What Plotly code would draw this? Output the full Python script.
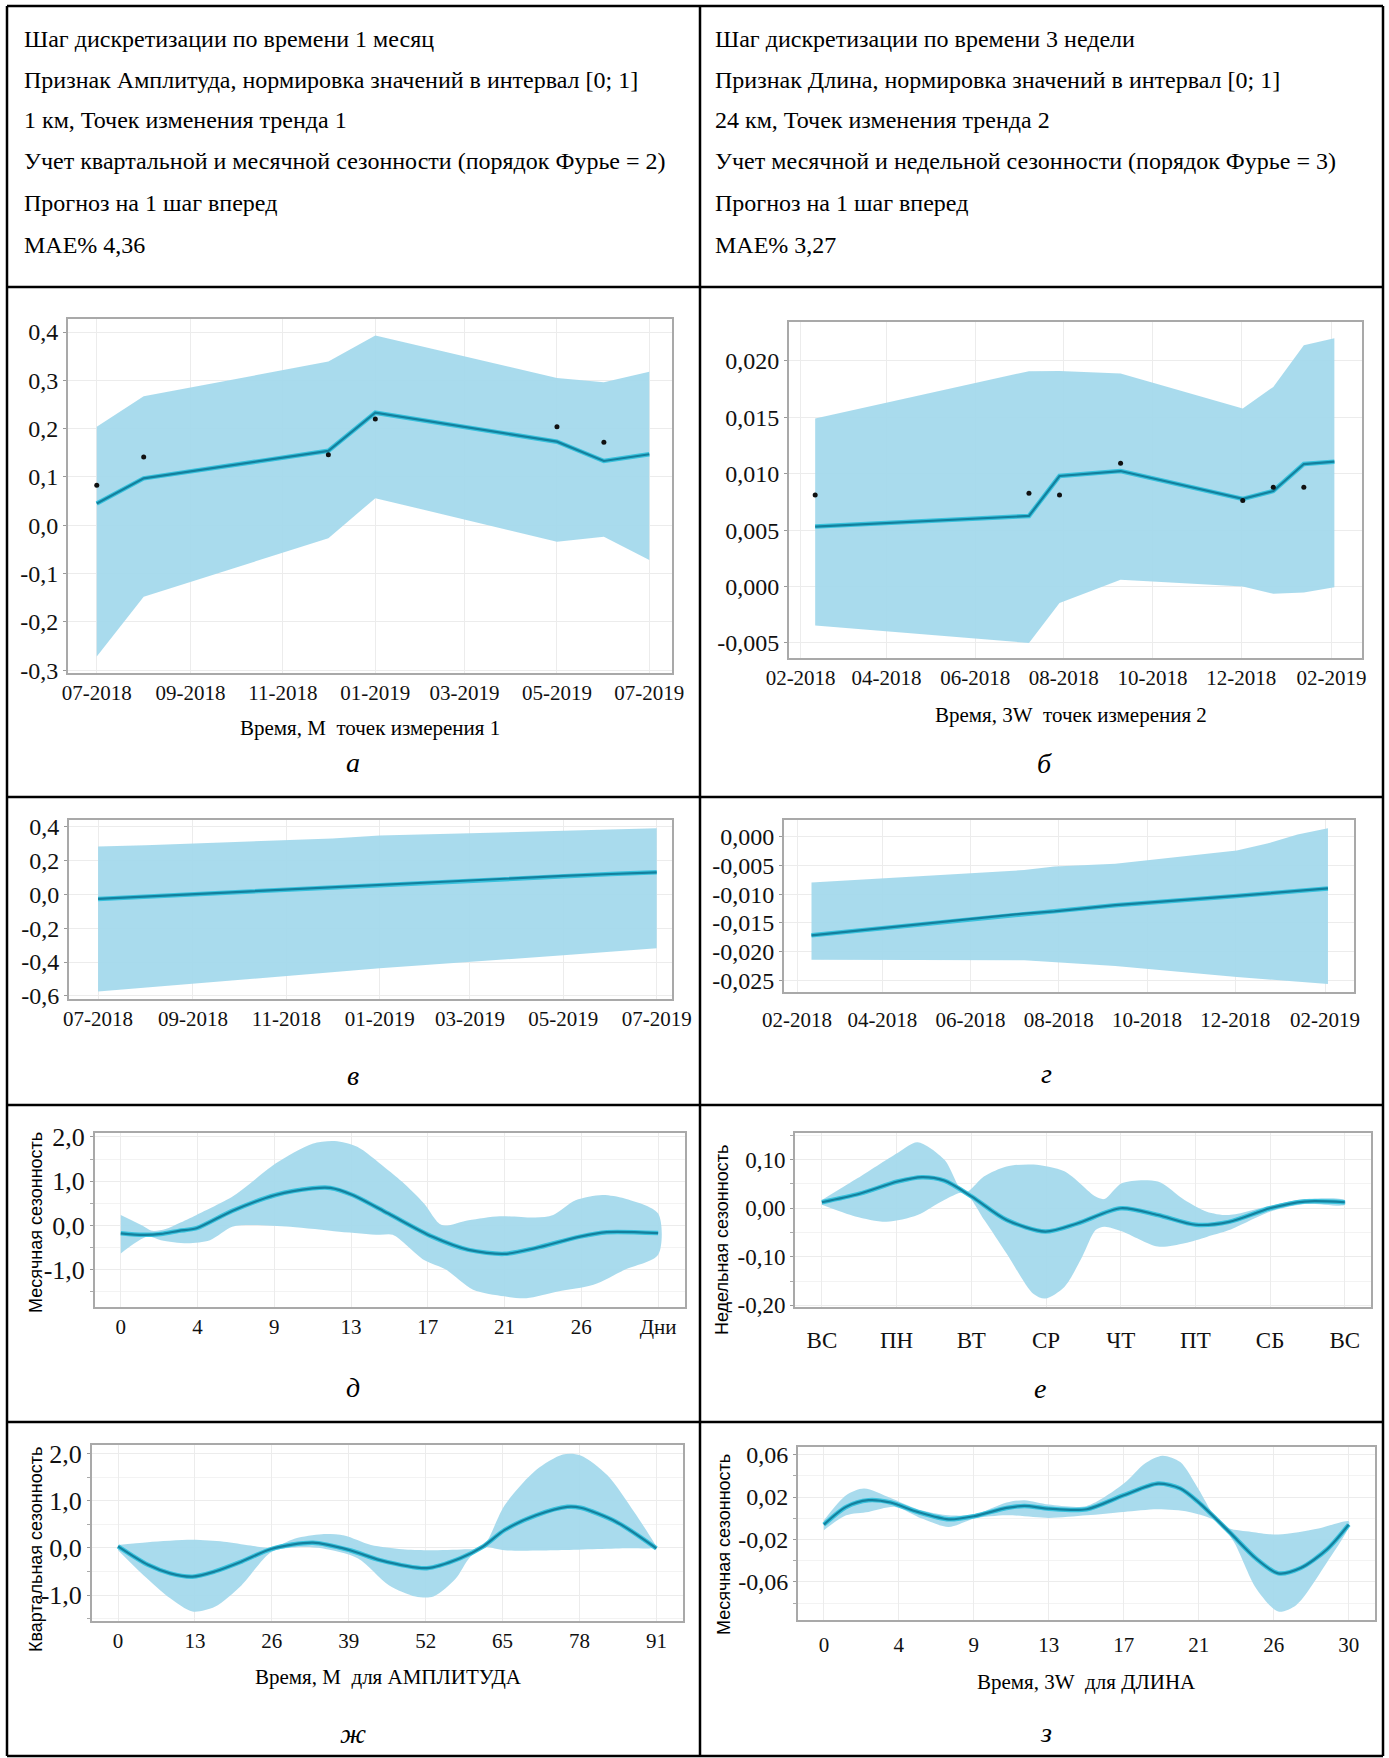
import plotly.graph_objects as go

W, H = 1389, 1758
SERIF = "Liberation Serif, Times New Roman, serif"
SANS = "Liberation Sans, Arial, sans-serif"

# ---------------- text ----------------
left_lines = [
    "Шаг дискретизации по времени 1 месяц",
    "Признак Амплитуда, нормировка значений в интервал [0; 1]",
    "1 км, Точек изменения тренда 1",
    "Учет квартальной и месячной сезонности (порядок Фурье = 2)",
    "Прогноз на 1 шаг вперед",
    "MAE% 4,36",
]
right_lines = [
    "Шаг дискретизации по времени 3 недели",
    "Признак Длина, нормировка значений в интервал [0; 1]",
    "24 км, Точек изменения тренда 2",
    "Учет месячной и недельной сезонности (порядок Фурье = 3)",
    "Прогноз на 1 шаг вперед",
    "MAE% 3,27",
]
captions = ["а", "б", "в", "г", "д", "е", "ж", "з"]

# ---------------- panel а (forecast, monthly) ----------------
a_dates = ["2018-07-01", "2018-08-01", "2018-12-01", "2019-01-01", "2019-05-01", "2019-06-01", "2019-07-01"]
a_yhat = [0.045, 0.097, 0.154, 0.233, 0.173, 0.133, 0.147]
a_upper = [0.204, 0.267, 0.339, 0.393, 0.305, 0.296, 0.318]
a_lower = [-0.272, -0.148, -0.027, 0.056, -0.034, -0.024, -0.072]
a_obs_dates = ["2018-07-01", "2018-08-01", "2018-12-01", "2019-01-01", "2019-05-01", "2019-06-01"]
a_obs = [0.083, 0.141, 0.146, 0.220, 0.204, 0.172]
a_yticks = [-0.3, -0.2, -0.1, 0.0, 0.1, 0.2, 0.3, 0.4]
a_ytext = ["-0,3", "-0,2", "-0,1", "0,0", "0,1", "0,2", "0,3", "0,4"]

# ---------------- panel б (forecast, 3 weeks) ----------------
b_dates = ["2018-02-11", "2018-07-08", "2018-07-29", "2018-09-09", "2018-12-02", "2018-12-23", "2019-01-13", "2019-02-03"]
b_yhat = [0.00532, 0.00626, 0.0098, 0.01024, 0.00777, 0.00847, 0.01086, 0.01107]
b_upper = [0.0149, 0.01909, 0.0191, 0.01888, 0.01578, 0.0177, 0.0214, 0.0220]
b_lower = [-0.00344, -0.0050, -0.00146, 0.0006, 0.00001, -0.00064, -0.00052, -0.00005]
b_obs_dates = ["2018-02-11", "2018-07-08", "2018-07-29", "2018-09-09", "2018-12-02", "2018-12-23", "2019-01-13"]
b_obs = [0.00812, 0.00827, 0.00812, 0.01092, 0.00762, 0.0088, 0.0088]
b_yticks = [-0.005, 0.0, 0.005, 0.010, 0.015, 0.020]
b_ytext = ["-0,005", "0,000", "0,005", "0,010", "0,015", "0,020"]

# ---------------- panel в (trend, monthly) ----------------
c_trend = [-0.027, -0.013, 0.043, 0.055, 0.109, 0.120, 0.130]
c_upper = [0.282, 0.290, 0.330, 0.347, 0.375, 0.382, 0.390]
c_lower = [-0.574, -0.550, -0.460, -0.437, -0.360, -0.340, -0.319]
c_yticks = [-0.6, -0.4, -0.2, 0.0, 0.2, 0.4]
c_ytext = ["-0,6", "-0,4", "-0,2", "0,0", "0,2", "0,4"]

# ---------------- panel г (trend, 3 weeks) ----------------
d_trend = [-0.01715, -0.01337, -0.01297, -0.0119, -0.0103, -0.0099, -0.0095, -0.0090]
d_upper = [-0.00797, -0.0058, -0.0052, -0.0047, -0.0024, -0.0012, 0.0004, 0.00145]
d_lower = [-0.0214, -0.0215, -0.0218, -0.0225, -0.0244, -0.0248, -0.0252, -0.0256]
d_yticks = [-0.025, -0.020, -0.015, -0.010, -0.005, 0.0]
d_ytext = ["-0,025", "-0,020", "-0,015", "-0,010", "-0,005", "0,000"]

# ---------------- panel д (monthly seasonality, amplitude) ----------------
e_x = [0, 1.24, 2.24, 3.24, 4.23, 6.22, 8.64, 10.7, 11.7, 12.94, 14.94, 17.38, 19.42, 21.41, 23.15, 25.64, 27.13, 30]
e_y = [-0.175, -0.21, -0.19, -0.12, -0.06, 0.33, 0.69, 0.84, 0.85, 0.69, 0.27, -0.25, -0.55, -0.64, -0.51, -0.25, -0.15, -0.17]
e_up_x = [0, 1.2, 1.74, 2.5, 3.24, 4.23, 6.22, 7.22, 8.64, 10.7, 11.95, 13.2, 14.69, 15.68, 16.93, 17.92, 19.42, 21.16, 23.15, 24.14, 25.39, 26.88, 28.13, 30]
e_up_y = [0.24, 0.0, -0.12, -0.08, 0.05, 0.24, 0.65, 0.95, 1.4, 1.85, 1.91, 1.78, 1.33, 1.0, 0.5, 0.01, 0.12, 0.21, 0.18, 0.24, 0.57, 0.69, 0.61, 0.27]
e_lo_x = [0, 1.49, 2.24, 3.73, 4.98, 6.22, 7.22, 9.46, 12.2, 14.44, 15.18, 16.93, 18.17, 19.67, 21.41, 22.65, 24.4, 26.39, 28.13, 30]
e_lo_y = [-0.63, -0.25, -0.33, -0.4, -0.33, -0.03, 0.01, -0.03, -0.14, -0.21, -0.21, -0.78, -1.0, -1.45, -1.6, -1.64, -1.49, -1.34, -1.0, -0.66]
e_xtext = ["0", "4", "9", "13", "17", "21", "26", "Дни"]
e_yticks = [-1.0, 0.0, 1.0, 2.0]
e_ytext = ["-1,0", "0,0", "1,0", "2,0"]

# ---------------- panel е (weekly seasonality, length) ----------------
f_x = [0, 0.506, 1.012, 1.34, 1.638, 2.007, 2.472, 2.99, 3.425, 4.002, 4.497, 5.003, 5.45, 5.998, 6.462, 7]
f_y = [0.0124, 0.03, 0.055, 0.064, 0.057, 0.024, -0.024, -0.048, -0.031, 0.0, -0.014, -0.034, -0.028, 0.0, 0.0138, 0.0124]
f_up_x = [0, 0.447, 1.012, 1.28, 1.64, 1.906, 2.174, 2.472, 2.829, 3.246, 3.663, 3.782, 4.02, 4.497, 4.854, 5.152, 5.45, 5.998, 6.462, 7]
f_up_y = [0.017, 0.059, 0.114, 0.136, 0.10, 0.032, 0.066, 0.086, 0.09, 0.076, 0.024, 0.019, 0.052, 0.055, 0.017, -0.007, -0.014, 0.005, 0.019, 0.017]
f_lo_x = [0, 0.447, 0.864, 1.28, 1.638, 1.906, 2.174, 2.472, 2.829, 2.99, 3.246, 3.484, 3.663, 3.782, 4.02, 4.497, 4.854, 5.152, 5.45, 5.998, 6.462, 7]
f_lo_y = [0.007, -0.017, -0.028, -0.014, 0.017, 0.032, -0.024, -0.093, -0.176, -0.186, -0.162, -0.1, -0.045, -0.038, -0.048, -0.079, -0.072, -0.059, -0.045, -0.007, 0.009, 0.007]
f_xtext = ["ВС", "ПН", "ВТ", "СР", "ЧТ", "ПТ", "СБ", "ВС"]
f_yticks = [-0.20, -0.10, 0.0, 0.10]
f_ytext = ["-0,20", "-0,10", "0,00", "0,10"]

# ---------------- panel ж (quarterly seasonality, amplitude) ----------------
g_x = [0, 5.05, 8.82, 12.59, 16.37, 20.89, 26.02, 32.96, 39.22, 44.27, 52.19, 57.84, 61.61, 65.38, 70.66, 75.94, 78.2, 84.24, 91]
g_y = [0.03, -0.36, -0.54, -0.61, -0.5, -0.29, -0.02, 0.11, -0.05, -0.26, -0.43, -0.22, 0.02, 0.38, 0.69, 0.87, 0.85, 0.55, -0.01]
g_up_x = [0, 5.05, 12.59, 17.87, 22.4, 26.02, 29.94, 34.46, 38.24, 42.76, 48.04, 52.19, 58.6, 61.61, 65.38, 70.66, 75.19, 78.2, 82.73, 87.25, 91]
g_up_y = [0.06, 0.12, 0.17, 0.13, 0.05, 0.0, 0.2, 0.29, 0.26, 0.06, -0.03, -0.05, -0.03, 0.02, 0.91, 1.65, 1.98, 1.96, 1.54, 0.76, 0.02]
g_lo_x = [0, 4.3, 8.82, 12.59, 16.37, 20.89, 26.02, 31.45, 34.46, 40.5, 45.78, 50.3, 53.32, 57.09, 59.35, 61.61, 65.38, 74.43, 85.75, 91]
g_lo_y = [-0.05, -0.58, -1.07, -1.35, -1.25, -0.79, -0.08, 0.02, -0.01, -0.22, -0.79, -1.03, -1.03, -0.65, -0.22, 0.02, -0.05, -0.05, -0.01, 0.0]
g_xticks = [0, 13, 26, 39, 52, 65, 78, 91]
g_xtext = ["0", "13", "26", "39", "52", "65", "78", "91"]
g_yticks = [-1.0, 0.0, 1.0, 2.0]
g_ytext = ["-1,0", "0,0", "1,0", "2,0"]

# ---------------- panel з (monthly seasonality, length) ----------------
h_x = [0, 1.27, 2.55, 3.82, 5.35, 7.13, 8.61, 10.44, 11.46, 12.86, 15.02, 17.14, 19.1, 20.37, 21.39, 23.17, 24.7, 25.97, 27.25, 28.78, 30]
h_y = [-0.006, 0.0107, 0.017, 0.0148, 0.006, -0.001, 0.002, 0.0097, 0.0116, 0.009, 0.0085, 0.0217, 0.0327, 0.028, 0.0154, -0.0129, -0.038, -0.052, -0.047, -0.029, -0.006]
h_up_x = [0, 1.27, 2.29, 3.82, 5.35, 7.13, 8.61, 10.44, 11.46, 12.86, 15.02, 17.14, 18.33, 19.35, 20.37, 21.39, 22.54, 23.17, 24.45, 25.97, 28.27, 30]
h_up_y = [-0.002, 0.0217, 0.028, 0.019, 0.0085, 0.0028, 0.0035, 0.0148, 0.017, 0.0129, 0.0116, 0.0327, 0.0515, 0.059, 0.053, 0.028, -0.0035, -0.0097, -0.0129, -0.0154, -0.0097, -0.0028]
h_lo_x = [0, 1.27, 2.55, 4.07, 5.6, 7.13, 8.61, 10.44, 12.86, 15.02, 17.14, 19.1, 20.88, 22.54, 23.43, 24.7, 25.97, 26.99, 28.78, 30]
h_lo_y = [-0.0113, 0.0028, 0.006, 0.0107, -0.0003, -0.0082, -0.0003, 0.0028, 0.0003, 0.0028, 0.006, 0.0085, 0.006, -0.0035, -0.0223, -0.066, -0.088, -0.082, -0.041, -0.0082]
h_xtext = ["0", "4", "9", "13", "17", "21", "26", "30"]
h_yticks = [-0.06, -0.02, 0.02, 0.06]
h_ytext = ["-0,06", "-0,02", "0,02", "0,06"]

# ---------------- styling ----------------
FILL = "rgba(164,217,236,0.95)"
GLOW = "#39c2dd"
CORE = "#13809e"
BOX = "#a9a9a9"
GRID = "#ececec"
MINOR = "#f3f3f3"

# plot-area boxes in pixels: l, r, t, b
boxes = {
    1: (68, 672, 319, 673),
    2: (789, 1362, 322, 658),
    3: (69, 672, 820, 999),
    4: (784, 1354, 820, 992),
    5: (95, 685, 1133, 1307),
    6: (795, 1371, 1133, 1307),
    7: (92, 683, 1445, 1621),
    8: (798, 1375, 1447, 1620),
}
ytick_size = {1: 24, 2: 24, 3: 24, 4: 24, 5: 26, 6: 23, 7: 26, 8: 24}

fig = go.Figure()


def ax_names(i):
    return ("x" if i == 1 else f"x{i}"), ("y" if i == 1 else f"y{i}")


def add_band(i, xu, yu, xl, yl, spline):
    xa, ya = ax_names(i)
    shape = "spline" if spline else "linear"
    xs = list(xu) + list(xl)[::-1]
    ys = list(yu) + list(yl)[::-1]
    fig.add_trace(go.Scatter(x=xs, y=ys, xaxis=xa, yaxis=ya, mode="lines", fill="toself",
                             fillcolor=FILL, line=dict(width=0, shape=shape, smoothing=0.8),
                             hoverinfo="skip", showlegend=False))


def add_line(i, x, y, spline):
    xa, ya = ax_names(i)
    shape = "spline" if spline else "linear"
    fig.add_trace(go.Scatter(x=x, y=y, xaxis=xa, yaxis=ya, mode="lines",
                             line=dict(color=GLOW, width=4.5, shape=shape, smoothing=0.8),
                             hoverinfo="skip", showlegend=False))
    fig.add_trace(go.Scatter(x=x, y=y, xaxis=xa, yaxis=ya, mode="lines",
                             line=dict(color=CORE, width=2.2, shape=shape, smoothing=0.8),
                             showlegend=False))


def add_dots(i, x, y):
    xa, ya = ax_names(i)
    fig.add_trace(go.Scatter(x=x, y=y, xaxis=xa, yaxis=ya, mode="markers",
                             marker=dict(color="#111", size=5), showlegend=False))


# panel а
add_band(1, a_dates, a_upper, a_dates, a_lower, False)
add_line(1, a_dates, a_yhat, False)
add_dots(1, a_obs_dates, a_obs)
# panel б
add_band(2, b_dates, b_upper, b_dates, b_lower, False)
add_line(2, b_dates, b_yhat, False)
add_dots(2, b_obs_dates, b_obs)
# panel в
add_band(3, a_dates, c_upper, a_dates, c_lower, False)
add_line(3, a_dates, c_trend, False)
# panel г
add_band(4, b_dates, d_upper, b_dates, d_lower, False)
add_line(4, b_dates, d_trend, False)
# panel д
add_band(5, e_up_x, e_up_y, e_lo_x, e_lo_y, True)
add_line(5, e_x, e_y, True)
# panel е
add_band(6, f_up_x, f_up_y, f_lo_x, f_lo_y, True)
add_line(6, f_x, f_y, True)
# panel ж
add_band(7, g_up_x, g_up_y, g_lo_x, g_lo_y, True)
add_line(7, g_x, g_y, True)
# panel з
add_band(8, h_up_x, h_up_y, h_lo_x, h_lo_y, True)
add_line(8, h_x, h_y, True)


def axis_common():
    return dict(showline=True, mirror=True, linecolor=BOX, linewidth=2,
                showgrid=True, gridcolor=GRID, gridwidth=1, zeroline=False,
                fixedrange=True, automargin=False)


layout_axes = {}
xranges = {
    1: ["2018-06-12", "2019-07-16"],
    2: ["2018-01-24", "2019-02-22"],
    3: ["2018-06-12", "2019-07-11"],
    4: ["2018-01-23", "2019-02-21"],
    5: [-1.44, 31.5],
    6: [-0.36, 7.35],
    7: [-4.4, 95.5],
    8: [-1.48, 31.5],
}
yranges = {
    1: [-0.306, 0.427],
    2: [-0.00633, 0.02345],
    3: [-0.618, 0.439],
    4: [-0.027, 0.0029],
    5: [-1.84, 2.09],
    6: [-0.2034, 0.155],
    7: [-1.55, 2.18],
    8: [-0.096, 0.0672],
}
yt = {1: (a_yticks, a_ytext), 2: (b_yticks, b_ytext), 3: (c_yticks, c_ytext), 4: (d_yticks, d_ytext),
      5: (e_yticks, e_ytext), 6: (f_yticks, f_ytext), 7: (g_yticks, g_ytext), 8: (h_yticks, h_ytext)}

for i, (l, r, t, b) in boxes.items():
    xa, ya = ax_names(i)
    xkey = "xaxis" if i == 1 else f"xaxis{i}"
    ykey = "yaxis" if i == 1 else f"yaxis{i}"
    xd = [l / W, r / W]
    yd = [1 - b / H, 1 - t / H]
    xdict = axis_common()
    xdict.update(domain=xd, anchor=ya, range=xranges[i], ticks="",
                 tickfont=dict(family=SERIF, size=21, color="#111"))
    if i in (1, 3):
        xdict.update(type="date", tickformat="%m-%Y", dtick="M2", tick0="2018-07-01")
    elif i in (2, 4):
        xdict.update(type="date", tickformat="%m-%Y", dtick="M2", tick0="2018-02-01")
        if i == 4:
            xdict.update(ticklabelstandoff=8)
    elif i in (5, 8):
        txt = e_xtext if i == 5 else h_xtext
        xdict.update(tickmode="array", tickvals=[k * 30 / 7 for k in range(8)], ticktext=txt)
        if i == 8:
            xdict.update(ticklabelstandoff=5)
    elif i == 6:
        xdict.update(tickmode="array", tickvals=list(range(8)), ticktext=f_xtext,
                     tickfont=dict(family=SERIF, size=23, color="#111"), ticklabelstandoff=11)
    elif i == 7:
        xdict.update(tickmode="array", tickvals=g_xticks, ticktext=g_xtext)
    ydict = axis_common()
    yv, ytx = yt[i]
    ydict.update(domain=yd, anchor=xa, range=yranges[i], tickmode="array", tickvals=yv, ticktext=ytx,
                 ticks="outside", ticklen=3, tickcolor="#999", tickwidth=1,
                 tickfont=dict(family=SERIF, size=ytick_size[i], color="#111"))
    if i >= 5:
        step = yv[1] - yv[0]
        ydict.update(minor=dict(tickmode="array", tickvals=[v + step / 2 for v in [yv[0] - step] + yv],
                                ticks="outside", ticklen=3, tickcolor="#aaa", showgrid=True, gridcolor=MINOR))
    layout_axes[xkey] = xdict
    layout_axes[ykey] = ydict

fig.update_layout(**layout_axes)

# ---------------- table lines ----------------
LX0, LXM, LX1 = 7, 700, 1383
rows = [6, 287, 797, 1105, 1422, 1756]
shapes = []
for yv_ in rows:
    shapes.append(dict(type="line", xref="paper", yref="paper", x0=LX0 / W, x1=LX1 / W,
                       y0=1 - yv_ / H, y1=1 - yv_ / H, line=dict(color="black", width=2.5)))
for xv_ in (LX0, LXM, LX1):
    shapes.append(dict(type="line", xref="paper", yref="paper", x0=xv_ / W, x1=xv_ / W,
                       y0=1 - rows[0] / H, y1=1 - rows[-1] / H, line=dict(color="black", width=2.5)))

# ---------------- annotations ----------------
ann = []


def note(x, y, text, size, family=SERIF, **kw):
    d = dict(x=x / W, y=1 - y / H, xref="paper", yref="paper", text=text, showarrow=False,
             yanchor="middle", font=dict(family=family, size=size, color="black"))
    d.update(kw)
    ann.append(d)


line_y = [39, 80, 120, 161, 203, 245]
for txt, yy in zip(left_lines, line_y):
    note(22, yy, txt, 24, xanchor="left")
for txt, yy in zip(right_lines, line_y):
    note(713, yy, txt, 24, xanchor="left")

cap_pos = [(353, 762), (1044, 763), (353, 1075), (1046, 1073), (353, 1387), (1040, 1388), (353, 1733), (1046, 1732)]
for txt, (cx, cy) in zip(captions, cap_pos):
    note(cx, cy, f"<i>{txt}</i>", 28, xanchor="center")

xtitles = [("Время, М  точек измерения 1", 370, 728), ("Время, 3W  точек измерения 2", 1071, 715),
           ("Время, М  для АМПЛИТУДА", 388, 1677), ("Время, 3W  для ДЛИНА", 1086, 1682)]
for txt, cx, cy in xtitles:
    note(cx, cy, txt.replace("  ", "&nbsp; "), 21, xanchor="center")

ytitles = [("Месячная сезонность", 36, 1223), ("Недельная сезонность", 722, 1240),
           ("Квартальная сезонность", 36, 1550), ("Месячная сезонность", 724, 1545)]
for txt, cx, cy in ytitles:
    note(cx, cy, txt, 18, family=SANS, xanchor="center", textangle=-90)

fig.update_layout(
    width=W, height=H, margin=dict(l=0, r=0, t=0, b=0, autoexpand=False),
    paper_bgcolor="white", plot_bgcolor="white",
    shapes=shapes, annotations=ann, showlegend=False,
    font=dict(family=SERIF, color="#111"),
)

fig.write_html("out.html", config={"displayModeBar": False},
               post_script="document.body.style.margin='0';")
